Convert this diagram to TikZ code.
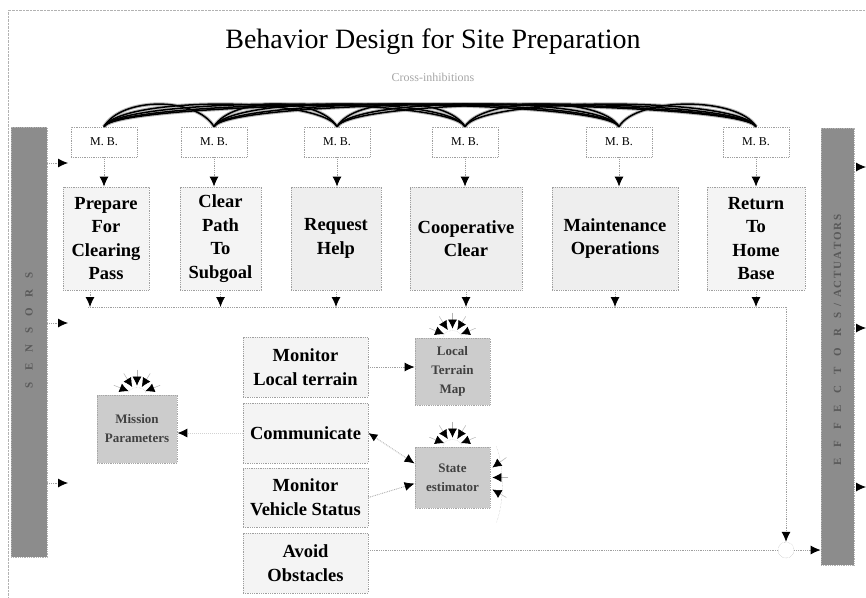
\documentclass[tikz,border=0pt]{standalone}
\usepackage{fontspec}
\setmainfont{Liberation Serif}
\usetikzlibrary{arrows.meta,calc}
\begin{document}
\begin{tikzpicture}[x=1pt,y=-1pt,
  dotframe/.style={draw=gray!75, densely dotted, line width=0.8pt},
  mbbox/.style={dotframe, fill=white, minimum width=66pt, minimum height=30pt, inner sep=0pt, font=\fontsize{12}{14}\selectfont},
  behbox/.style={dotframe, fill=gray!9, inner sep=0pt, minimum height=103pt, align=center, font=\bfseries\fontsize{18.5}{23.5}\selectfont},
  midbox/.style={dotframe, fill=gray!9, inner sep=0pt, minimum width=125pt, align=center, font=\bfseries\fontsize{18.5}{24}\selectfont},
  store/.style={draw=gray!70, densely dotted, line width=0.8pt, fill=black!20, inner sep=0pt, align=center, text=black!75, font=\bfseries\fontsize{13}{19}\selectfont},
  bar/.style={draw=gray!60, densely dotted, line width=0.8pt, fill=black!45, inner sep=0pt},
  tip/.style={-{Latex[length=10pt,width=9pt,black]}},
  conn/.style={draw=gray!75, densely dotted, line width=0.8pt, tip},
  lightconn/.style={draw=gray!35, densely dotted, line width=1pt, tip},
  crownarrow/.style={draw=gray!60, line width=0.5pt, -{Latex[length=9pt,width=9pt,black]}},
  inhib/.style={line width=1.5pt, black}
]
\useasboundingbox (0,0) rectangle (866,597);
\draw[gray!60, densely dotted] (866,10) -- (8,10) -- (8,597);

% title
\node[font=\fontsize{28}{32}\selectfont] (title) at (433,42) {Behavior Design for Site Preparation};
\node[font=\fontsize{12}{14}\selectfont, text=gray!70] (sub) at (433,77) {Cross-inhibitions};

% sensor and effector bars
\node[bar, minimum width=36pt, minimum height=430pt] (lbar) at (29,342) {};
\node[rotate=90, text=black!65, font=\bfseries\fontsize{11}{11}\selectfont] (ltext) at (29,330) {S\quad E\quad N\quad S\quad O\quad R\quad S};
\node[bar, minimum width=33pt, minimum height=437pt] (rbar) at (837.5,346.5) {};
\node[rotate=90, text=black!65, font=\bfseries\fontsize{11}{11}\selectfont] (rtext) at (837.5,340) {E\quad F\quad F\quad E\quad C\quad T\quad O\quad R\quad S\enspace/\enspace A\,C\,T\,U\,A\,T\,O\,R\,S};

% M.B. boxes
\node[mbbox] (mb1) at (104,142) {M. B.};
\node[mbbox] (mb2) at (214,142) {M. B.};
\node[mbbox] (mb3) at (337,142) {M. B.};
\node[mbbox] (mb4) at (465,142) {M. B.};
\node[mbbox] (mb5) at (619,142) {M. B.};
\node[mbbox] (mb6) at (756,142) {M. B.};

% cross-inhibition bundle
\foreach \i/\j in {1/2,1/3,1/4,1/5,1/6,2/3,2/4,2/5,2/6,3/4,3/5,3/6,4/5,4/6,5/6}{
  \draw[gray!55, line width=3.5pt] (mb\i.north) .. controls +(18,-30) and +(-18,-30) .. (mb\j.north);
}
\foreach \i/\j in {1/2,1/3,1/4,1/5,1/6,2/3,2/4,2/5,2/6,3/4,3/5,3/6,4/5,4/6,5/6}{
  \draw[inhib] (mb\i.north) .. controls +(18,-30) and +(-18,-30) .. (mb\j.north);
}

% behaviour boxes
\node[behbox, minimum width=86pt] (b1) at (106,238.5) {Prepare\\For\\Clearing\\Pass};
\node[behbox, minimum width=81pt] (b2) at (220.5,238.5) {Clear\\Path\\To\\Subgoal};
\node[behbox, minimum width=90pt, fill=gray!13] (b3) at (336,238.5) {Request\\Help};
\node[behbox, minimum width=112pt, fill=gray!13] (b4) at (466,238.5) {Cooperative\\Clear};
\node[behbox, minimum width=126pt, fill=gray!13] (b5) at (615,238.5) {Maintenance\\Operations};
\node[behbox, minimum width=98pt] (b6) at (756,238.5) {Return\\To\\Home\\Base};

\foreach \k in {1,...,6}{
  \draw[conn] (mb\k.south) -- (mb\k.south |- b\k.north);
}

% output bus
\coordinate (busL) at (88,307);
\coordinate (busR) at (786,307);
\coordinate (b1out) at (90,290);
\node[draw=gray!70, densely dotted, circle, minimum size=16pt, inner sep=0pt] (sup) at (786,550) {};
\draw[dotframe] (busL) -- (busR);
\draw[conn] (busR) -- (sup.north);
\draw[conn] (b1out) -- (b1out |- busL);
\foreach \k in {2,...,6}{
  \draw[conn] (b\k.south) -- (b\k.south |- busL);
}

% middle behaviours
\node[midbox, minimum height=60pt] (ml) at (305.5,367) {Monitor\\Local terrain};
\node[midbox, minimum height=60pt] (comm) at (305.5,433) {Communicate};
\node[midbox, minimum height=59pt] (veh) at (305.5,497.5) {Monitor\\Vehicle Status};
\node[midbox, minimum height=60pt] (avoid) at (305.5,563) {Avoid\\Obstacles};

% stores
\node[store, minimum width=80pt, minimum height=68pt] (mission) at (137,429) {Mission\\Parameters};
\node[store, minimum width=75pt, minimum height=67pt] (map) at (452.5,371.5) {Local\\Terrain\\Map};
\node[store, minimum width=75pt, minimum height=61pt] (state) at (452.5,477.5) {State\\estimator};

% crowns of inputs
\foreach \n in {mission,map,state}{
  \draw[gray!60, densely dotted] ($(\n.north)+(-9,-1)$) arc[start angle=180, end angle=0, x radius=9, y radius=-6];
  \foreach \a in {-22,-58,-90,-122,-158}{
    \draw[crownarrow] ($(\n.north)+(\a:25)$) -- ($(\n.north)+(\a:9)$);
  }
}
\draw[gray!60, densely dotted] ($(state.north east)+(6,0)$) .. controls +(8,20) and +(8,-20) .. ($(state.south east)+(6,14)$);
\draw[crownarrow] ($(state.east)+(16,-20)$) -- ($(state.east)+(2,-10)$);
\draw[crownarrow] ($(state.east)+(18,0)$) -- ($(state.east)+(2,0)$);
\draw[crownarrow] ($(state.east)+(16,20)$) -- ($(state.east)+(2,12)$);

% middle connectors
\draw[lightconn] (comm.west) -- (comm.west -| mission.east);
\draw[conn] (ml.east) -- (ml.east -| map.west);
\draw[conn, {Latex[length=9pt,width=8pt,black]}-{Latex[length=10pt,width=9pt,black]}] (comm.east) -- ($(state.west)+(0,-14)$);
\draw[conn] (veh.east) -- ($(state.west)+(0,6)$);
\draw[dotframe] (avoid.east |- sup) -- (sup.west);
\draw[conn] (sup.east) -- (sup -| rbar.west);

% sensor arrows
\coordinate (s1) at (68,163);
\coordinate (s2) at (68,323);
\coordinate (s3) at (68,483);
\foreach \k in {1,2,3}{
  \draw[conn] (s\k -| lbar.east) -- (s\k);
}
% effector arrows
\coordinate (e1) at (866,167);
\coordinate (e2) at (866,328);
\coordinate (e3) at (866,487);
\foreach \k in {1,2,3}{
  \draw[conn] (e\k -| rbar.east) -- (e\k);
}
\end{tikzpicture}
\end{document}
